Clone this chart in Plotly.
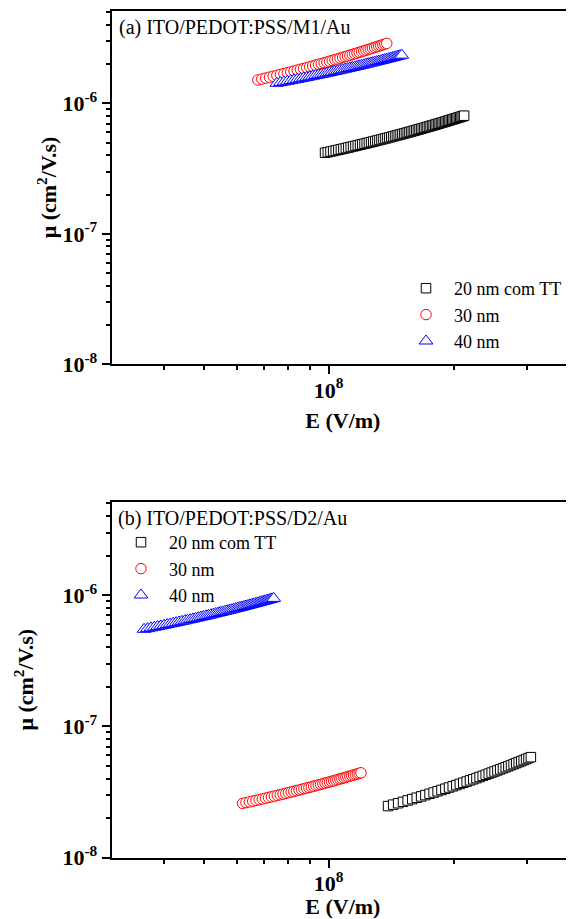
import plotly.graph_objects as go

# ---------------- data (E in units of 1e7 V/m) ----------------
series_names = ["20 nm com TT", "30 nm", "40 nm"]

# Panel (a) ITO/PEDOT:PSS/M1/Au
a_e_20tt = [9.80, 9.95, 10.10, 10.25, 10.40, 10.55, 10.70, 10.85, 11.00, 11.15,
            11.30, 11.45, 11.60, 11.75, 11.90, 12.05, 12.20, 12.35, 12.50, 12.65,
            12.80, 12.95, 13.10, 13.25, 13.40, 13.55, 13.70, 13.85, 14.00, 14.15,
            14.30, 14.45, 14.60, 14.75, 14.90, 15.05, 15.20, 15.35, 15.50, 15.65,
            15.80, 15.95, 16.10, 16.25, 16.40, 16.55, 16.70, 16.85, 17.00, 17.15,
            17.30, 17.45, 17.60, 17.75, 17.90, 18.05, 18.20, 18.35, 18.50, 18.65,
            18.80, 18.95, 19.10, 19.25, 19.40, 19.55, 19.70, 19.85, 20.00, 20.15,
            20.30, 20.45, 20.60, 20.75, 20.90, 21.05, 21.20]
a_mu_20tt = [4.178, 4.223, 4.267, 4.312, 4.357, 4.402, 4.447, 4.493, 4.538, 4.584,
             4.630, 4.676, 4.722, 4.768, 4.815, 4.861, 4.908, 4.955, 5.002, 5.049,
             5.097, 5.144, 5.192, 5.240, 5.288, 5.336, 5.385, 5.433, 5.482, 5.531,
             5.580, 5.629, 5.679, 5.728, 5.778, 5.828, 5.878, 5.928, 5.979, 6.030,
             6.081, 6.132, 6.183, 6.234, 6.286, 6.338, 6.390, 6.442, 6.495, 6.547,
             6.600, 6.653, 6.706, 6.760, 6.813, 6.867, 6.921, 6.975, 7.029, 7.084,
             7.139, 7.194, 7.249, 7.304, 7.360, 7.415, 7.472, 7.528, 7.584, 7.641,
             7.698, 7.755, 7.812, 7.869, 7.927, 7.985, 8.043]  # x1e-7 cm2/V.s

a_e_30 = [6.75, 6.90, 7.05, 7.20, 7.35, 7.50, 7.65, 7.80, 7.95, 8.10,
          8.25, 8.40, 8.55, 8.70, 8.85, 9.00, 9.15, 9.30, 9.45, 9.60,
          9.75, 9.90, 10.05, 10.20, 10.35, 10.50, 10.65, 10.80, 10.95, 11.10,
          11.25, 11.40, 11.55, 11.70, 11.85, 12.00, 12.15, 12.30, 12.45, 12.60,
          12.75, 12.90, 13.05, 13.20, 13.35, 13.50, 13.65, 13.80]
a_mu_30 = [1.510, 1.535, 1.561, 1.586, 1.612, 1.638, 1.664, 1.690, 1.716, 1.743,
           1.769, 1.796, 1.823, 1.850, 1.877, 1.905, 1.932, 1.960, 1.988, 2.016,
           2.045, 2.073, 2.102, 2.131, 2.160, 2.189, 2.218, 2.248, 2.278, 2.307,
           2.338, 2.368, 2.398, 2.429, 2.460, 2.491, 2.522, 2.554, 2.585, 2.617,
           2.649, 2.682, 2.714, 2.747, 2.780, 2.813, 2.846, 2.879]  # x1e-6

a_e_40 = [7.50, 7.65, 7.80, 7.95, 8.10, 8.25, 8.40, 8.55, 8.70, 8.85,
          9.00, 9.15, 9.30, 9.45, 9.60, 9.75, 9.90, 10.05, 10.20, 10.35,
          10.50, 10.65, 10.80, 10.95, 11.10, 11.25, 11.40, 11.55, 11.70, 11.85,
          12.00, 12.15, 12.30, 12.45, 12.60, 12.75, 12.90, 13.05, 13.20, 13.35,
          13.50, 13.65, 13.80, 13.95, 14.10, 14.25, 14.40, 14.55, 14.70, 14.85, 15.00]
a_mu_40 = [1.425, 1.442, 1.459, 1.476, 1.494, 1.511, 1.528, 1.545, 1.563, 1.580,
           1.598, 1.615, 1.633, 1.650, 1.668, 1.685, 1.703, 1.721, 1.739, 1.757,
           1.775, 1.793, 1.811, 1.829, 1.847, 1.865, 1.883, 1.902, 1.920, 1.938,
           1.957, 1.976, 1.994, 2.013, 2.031, 2.050, 2.069, 2.088, 2.107, 2.126,
           2.145, 2.164, 2.184, 2.203, 2.222, 2.242, 2.261, 2.281, 2.301, 2.320, 2.340]  # x1e-6

# Panel (b) ITO/PEDOT:PSS/D2/Au
b_e_20tt = [13.9, 14.3, 14.7, 15.1, 15.5, 15.9, 16.3, 16.7, 17.1, 17.5,
            17.9, 18.3, 18.7, 19.1, 19.5, 19.9, 20.3, 20.7, 21.1, 21.5,
            21.9, 22.3, 22.7, 23.1, 23.5, 23.9, 24.3, 24.7, 25.1, 25.5,
            25.9, 26.3, 26.7, 27.1, 27.5, 27.9, 28.3, 28.7, 29.1, 29.5,
            29.9, 30.3, 30.7]
b_mu_20tt = [2.466, 2.529, 2.593, 2.657, 2.722, 2.788, 2.855, 2.922, 2.990, 3.059,
             3.129, 3.200, 3.271, 3.343, 3.416, 3.489, 3.564, 3.639, 3.716, 3.793,
             3.870, 3.949, 4.029, 4.110, 4.191, 4.274, 4.357, 4.441, 4.526, 4.612,
             4.699, 4.787, 4.876, 4.966, 5.057, 5.149, 5.242, 5.335, 5.430, 5.526,
             5.623, 5.721, 5.820]  # x1e-8

b_e_30 = [6.20, 6.32, 6.44, 6.56, 6.68, 6.80, 6.92, 7.04, 7.16, 7.28,
          7.40, 7.52, 7.64, 7.76, 7.88, 8.00, 8.12, 8.24, 8.36, 8.48,
          8.60, 8.72, 8.84, 8.96, 9.08, 9.20, 9.32, 9.44, 9.56, 9.68,
          9.80, 9.92, 10.04, 10.16, 10.28, 10.40, 10.52, 10.64, 10.76, 10.88,
          11.00, 11.12, 11.24, 11.36, 11.48, 11.60, 11.72, 11.84, 11.96]
b_mu_30 = [2.586, 2.621, 2.655, 2.690, 2.725, 2.760, 2.795, 2.831, 2.866, 2.902,
           2.938, 2.974, 3.010, 3.046, 3.083, 3.119, 3.156, 3.193, 3.230, 3.267,
           3.305, 3.342, 3.380, 3.418, 3.456, 3.494, 3.532, 3.571, 3.610, 3.649,
           3.688, 3.727, 3.766, 3.806, 3.846, 3.886, 3.926, 3.966, 4.006, 4.047,
           4.088, 4.129, 4.170, 4.212, 4.253, 4.295, 4.337, 4.380, 4.422]  # x1e-8

b_e_40 = [3.59, 3.66, 3.73, 3.80, 3.87, 3.94, 4.01, 4.08, 4.15, 4.22,
          4.29, 4.36, 4.43, 4.50, 4.57, 4.64, 4.71, 4.78, 4.85, 4.92,
          4.99, 5.06, 5.13, 5.20, 5.27, 5.34, 5.41, 5.48, 5.55, 5.62,
          5.69, 5.76, 5.83, 5.90, 5.97, 6.04, 6.11, 6.18, 6.25, 6.32,
          6.39, 6.46, 6.53, 6.60, 6.67, 6.74, 6.81, 6.88, 6.95, 7.02,
          7.09, 7.16, 7.23, 7.30, 7.37]
b_mu_40 = [5.490, 5.557, 5.625, 5.692, 5.760, 5.828, 5.896, 5.965, 6.033, 6.102,
           6.171, 6.240, 6.309, 6.379, 6.449, 6.519, 6.589, 6.659, 6.730, 6.801,
           6.872, 6.944, 7.016, 7.088, 7.159, 7.232, 7.304, 7.377, 7.451, 7.524,
           7.598, 7.672, 7.746, 7.821, 7.895, 7.970, 8.045, 8.121, 8.197, 8.273,
           8.349, 8.427, 8.503, 8.580, 8.658, 8.736, 8.814, 8.893, 8.971, 9.050,
           9.130, 9.209, 9.289, 9.370, 9.450]  # x1e-7

y_tickvals = [1e-8, 1e-7, 1e-6]
y_ticktext = ["<b>10<sup>-8</sup></b>", "<b>10<sup>-7</sup></b>", "<b>10<sup>-6</sup></b>"]
x_tickvals = [1e8]
x_ticktext = ["<b>10<sup>8</sup></b>"]
x_minor = [4e7, 5e7, 6e7, 7e7, 8e7, 9e7, 2e8, 3e8]
y_minor = [m * 10.0 ** p for p in (-8, -7, -6) for m in range(2, 10)]

FONT = "Liberation Serif"
colors = ["black", "red", "blue"]
symbols = ["square", "circle", "triangle-up"]
msizes = [9.5, 10.5, 12]

def scale(vals, f):
    return [v * f for v in vals]

fig = go.Figure()

panels = [
    ("x", "y", "legend",
     [(a_e_20tt, a_mu_20tt, 1e-7), (a_e_30, a_mu_30, 1e-6), (a_e_40, a_mu_40, 1e-6)]),
    ("x2", "y2", "legend2",
     [(b_e_20tt, b_mu_20tt, 1e-8), (b_e_30, b_mu_30, 1e-8), (b_e_40, b_mu_40, 1e-7)]),
]
for xa, ya, lg, data in panels:
    for i, (e, mu, f) in enumerate(data):
        fig.add_trace(go.Scatter(
            x=scale(e, 1e7), y=scale(mu, f), mode="markers", name=series_names[i],
            xaxis=xa, yaxis=ya, legend=lg,
            marker=dict(symbol=symbols[i], size=msizes[i], color="white",
                        line=dict(color=colors[i], width=1)),
        ))

# page body has an 8px margin: figure is drawn 8px in from the top-left
OFF = 8
W, H = 574 - OFF, 919 - OFF

def px_x(v):
    return (v - OFF) / W

def px_y(v):
    return 1 - (v - OFF) / H

xdom = [px_x(111.7), 1.0]
ydom_a = [px_y(364.3), px_y(10.7)]
ydom_b = [px_y(857.5), px_y(502.0)]

def xaxis_cfg(dom, anchor, standoff):
    return dict(
        domain=dom, anchor=anchor, type="log", range=[7.4771, 8.5911],
        showline=True, linecolor="black", linewidth=2, mirror=True,
        showgrid=False, zeroline=False,
        ticks="outside", ticklen=8, tickwidth=1.5, tickcolor="black",
        tickvals=x_tickvals, ticktext=x_ticktext, ticklabelstandoff=-3,
        tickfont=dict(family=FONT, size=22, color="black"),
        minor=dict(tickvals=x_minor, ticks="outside", ticklen=4, tickwidth=1.5,
                   tickcolor="black", showgrid=False),
        title=dict(text="<b>E (V/m)</b>", font=dict(family=FONT, size=22, color="black"),
                   standoff=standoff),
        automargin=False,
    )

def yaxis_cfg(dom, anchor, standoff):
    return dict(
        domain=dom, anchor=anchor, type="log", range=[-8, -5.29],
        showline=True, linecolor="black", linewidth=2, mirror=False,
        showgrid=False, zeroline=False,
        ticks="outside", ticklen=8, tickwidth=1.5, tickcolor="black",
        tickvals=y_tickvals, ticktext=y_ticktext,
        tickfont=dict(family=FONT, size=22, color="black"),
        minor=dict(tickvals=y_minor, ticks="outside", ticklen=4, tickwidth=1.5,
                   tickcolor="black", showgrid=False),
        title=dict(text="<b>\u03bc (cm<sup>2</sup>/V.s)</b>",
                   font=dict(family=FONT, size=22, color="black"), standoff=standoff),
        automargin=False,
    )

legend_common = dict(
    font=dict(family=FONT, size=18, color="black"),
    bgcolor="rgba(0,0,0,0)", borderwidth=0, itemwidth=46,
    xanchor="left", yanchor="top", tracegroupgap=0,
)

fig.update_layout(
    width=W, height=H,
    margin=dict(l=0, r=0, t=0, b=0),
    paper_bgcolor="white", plot_bgcolor="white",
    font=dict(family=FONT, color="black"),
    showlegend=True,
    xaxis=xaxis_cfg(xdom, "y", 11),
    yaxis=yaxis_cfg(ydom_a, "x", 0),
    xaxis2=xaxis_cfg(xdom, "y2", 10),
    yaxis2=yaxis_cfg(ydom_b, "x2", 23),
    legend=dict(x=390 / W, y=1 - 262 / H, **legend_common),
    legend2=dict(x=105 / W, y=1 - 516 / H, **legend_common),
    annotations=[
        dict(text="(a) ITO/PEDOT:PSS/M1/Au", xref="paper", yref="paper",
             x=px_x(117), y=px_y(27.5), xanchor="left", yanchor="middle",
             showarrow=False, font=dict(family=FONT, size=20, color="black")),
        dict(text="(b) ITO/PEDOT:PSS/D2/Au", xref="paper", yref="paper",
             x=px_x(116), y=px_y(518), xanchor="left", yanchor="middle",
             showarrow=False, font=dict(family=FONT, size=20, color="black")),
    ],
)

fig.write_html("out.html")
